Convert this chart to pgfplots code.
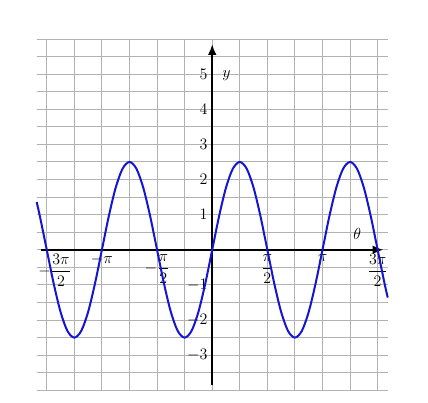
\documentclass[border=0pt]{standalone}
\usepackage{amsmath}
\usepackage{pgfplots}
\pgfplotsset{compat=1.18}
\usetikzlibrary{arrows.meta}
\definecolor{curveblue}{RGB}{20,20,210}
\begin{document}
\begin{tikzpicture}
\useasboundingbox (-27.5pt,-9.2pt) rectangle (293.5pt,292.75pt);
\begin{axis}[
    scale only axis,
    width=263.3pt, height=263.5pt,
    xmin=-1.5915, xmax=1.5915,
    ymin=-4, ymax=6,
    axis lines=middle,
    axis line style={draw=none},
    tick label style={font=\fontsize{11.5}{14}\selectfont},
    xtick={-1.5,-1,-0.5,0.5,1,1.5},
    xticklabels={{\hspace{12pt}$-\dfrac{3\pi}{2}$}, $-\pi$, $-\dfrac{\pi}{2}$, $\dfrac{\pi}{2}$, $\pi$, $\dfrac{3\pi}{2}$},
    ytick={-3,-2,-1,1,2,3,4,5},
    minor xtick={-1.5,-1.25,...,1.5},
    minor ytick={-4,-3.5,...,6},
    grid=both,
    grid style={black!30, line width=0.7pt},
    major grid style={black!30, line width=0.7pt},
    major tick length=0pt, minor tick length=0pt,
    clip=false,
]
% axes with arrows
\draw[line width=1.3pt, -{Latex[length=8pt,width=6.5pt]}] (axis cs:-1.552,0) -- (axis cs:1.552,0);
\draw[line width=1.3pt, -{Latex[length=8pt,width=6.5pt]}] (axis cs:0,-3.84) -- (axis cs:0,5.85);
\node[font=\fontsize{11.5}{14}\selectfont] at (axis cs:0.13,4.97) {$y$};
\node[font=\fontsize{11.5}{14}\selectfont] at (axis cs:1.314,0.45) {$\theta$};

% curve
\addplot[color=curveblue, line width=1.5pt, smooth] coordinates {
    (-1.5915,1.360)
    (-1.5625,0.957)
    (-1.5,0)
    (-1.4375,-0.957)
    (-1.375,-1.768)
    (-1.3125,-2.310)
    (-1.25,-2.5)
    (-1.1875,-2.310)
    (-1.125,-1.768)
    (-1.0625,-0.957)
    (-1,0)
    (-0.9375,0.957)
    (-0.875,1.768)
    (-0.8125,2.310)
    (-0.75,2.5)
    (-0.6875,2.310)
    (-0.625,1.768)
    (-0.5625,0.957)
    (-0.5,0)
    (-0.4375,-0.957)
    (-0.375,-1.768)
    (-0.3125,-2.310)
    (-0.25,-2.5)
    (-0.1875,-2.310)
    (-0.125,-1.768)
    (-0.0625,-0.957)
    (0,0)
    (0.0625,0.957)
    (0.125,1.768)
    (0.1875,2.310)
    (0.25,2.5)
    (0.3125,2.310)
    (0.375,1.768)
    (0.4375,0.957)
    (0.5,0)
    (0.5625,-0.957)
    (0.625,-1.768)
    (0.6875,-2.310)
    (0.75,-2.5)
    (0.8125,-2.310)
    (0.875,-1.768)
    (0.9375,-0.957)
    (1,0)
    (1.0625,0.957)
    (1.125,1.768)
    (1.1875,2.310)
    (1.25,2.5)
    (1.3125,2.310)
    (1.375,1.768)
    (1.4375,0.957)
    (1.5,0)
    (1.5625,-0.957)
    (1.5915,-1.360)
};
\end{axis}
\end{tikzpicture}
\end{document}
